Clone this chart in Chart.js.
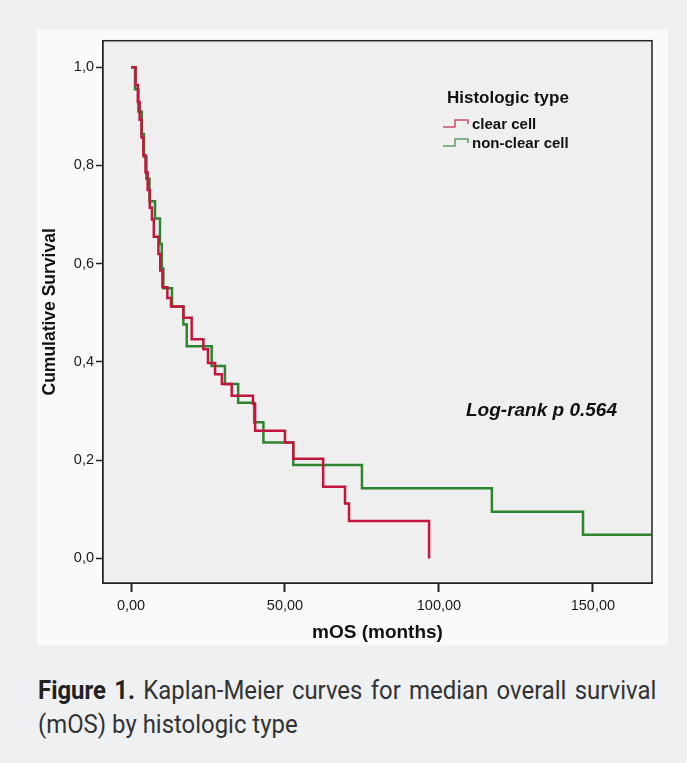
<!DOCTYPE html>
<html>
<head>
<meta charset="utf-8">
<script src="https://cdn.jsdelivr.net/npm/chart.js@4.4.0/dist/chart.umd.min.js"></script>
<style>
  html, body { margin: 0; padding: 0; }
  body { width: 687px; height: 763px; background: #eef0f2; position: relative; overflow: hidden; }
  #panel { position: absolute; left: 37px; top: 30px; width: 631px; height: 615px; background: #fafafa; }
  #caption {
    position: absolute; left: 38px; top: 673px; width: 672px;
    transform: scaleX(0.92); transform-origin: 0 0;
    font-family: Roboto, "Liberation Sans", Arial, sans-serif;
    font-size: 26px; line-height: 34px; color: #333;
    text-align: justify; text-align-last: left;
  }
  #caption b { color: #222; }
</style>
</head>
<body>
<div id="panel"><canvas id="kmChart" width="631" height="615"></canvas></div>
<div id="caption"><b>Figure 1.</b> Kaplan-Meier curves for median overall survival (mOS) by histologic type</div>
<script>
// clear cell (red)
const clearTimes = [0, 1.5, 2.2, 2.8, 3.4, 4.0, 4.7, 5.4, 6.1, 6.8, 7.4, 8.9, 9.5, 10.2, 11.8, 13.0, 17.0, 19.7, 23.5, 25.0, 27.3, 29.5, 32.7, 39.6, 40.3, 50.0, 52.7, 62.4, 69.5, 70.8, 96.8];
const clearSurv = [1.0, 0.964, 0.929, 0.893, 0.857, 0.821, 0.786, 0.75, 0.714, 0.69, 0.655, 0.62, 0.586, 0.552, 0.53, 0.513, 0.49, 0.446, 0.426, 0.398, 0.375, 0.355, 0.331, 0.315, 0.26, 0.236, 0.203, 0.146, 0.112, 0.076, 0.0];

// non-clear cell (green)
const nonClearTimes = [0, 1.3, 2.4, 3.5, 4.2, 5.0, 6.0, 7.8, 9.4, 10.0, 10.5, 13.3, 17.0, 18.1, 26.2, 30.5, 34.8, 40.0, 43.0, 52.7, 75.0, 117.2, 146.8, 169.0];
const nonClearSurv = [1.0, 0.955, 0.91, 0.864, 0.818, 0.773, 0.727, 0.692, 0.64, 0.59, 0.55, 0.513, 0.476, 0.432, 0.392, 0.355, 0.317, 0.277, 0.236, 0.19, 0.143, 0.095, 0.048, 0.048];

const xTicks = [0, 50, 100, 150];
const yTicks = [0, 0.2, 0.4, 0.6, 0.8, 1.0];
const seriesNames = ['clear cell', 'non-clear cell'];
const legendTitle = 'Histologic type';
const pValueText = 'Log-rank p 0.564';

const RED = '#c4163c';
const GREEN = '#2f842f';
const FONT = '"Liberation Sans", Arial, sans-serif';

function toPoints(times, surv) {
    return times.map((t, i) => ({ x: t, y: surv[i] }));
}

// plot background + frame, legend and p-value text
const frame = {
    id: 'frame',
    beforeDatasetsDraw(chart) {
        const a = chart.chartArea;
        const c = chart.ctx;
        c.save();
        c.fillStyle = '#efefef';
        c.fillRect(a.left, a.top, a.right - a.left, a.bottom - a.top);
        c.restore();
    },
    afterDatasetsDraw(chart) {
        const a = chart.chartArea;
        const c = chart.ctx;
        c.save();
        c.strokeStyle = '#222';
        c.lineWidth = 1.5;
        c.strokeRect(a.left, a.top, a.right - a.left, a.bottom - a.top);

        // legend
        c.fillStyle = '#111';
        c.textBaseline = 'alphabetic';
        c.font = 'bold 17px ' + FONT;
        c.fillText(legendTitle, 410, 73);
        const colors = [RED, GREEN];
        const rows = [99, 118];
        c.font = 'bold 15px ' + FONT;
        seriesNames.forEach((name, i) => {
            const y = rows[i];
            c.strokeStyle = colors[i];
            c.globalAlpha = 0.75;
            c.lineWidth = 1.5;
            c.beginPath();
            c.moveTo(406, y - 2);
            c.lineTo(418, y - 2);
            c.lineTo(418, y - 9);
            c.lineTo(431, y - 9);
            c.lineTo(431, y - 5);
            c.stroke();
            c.globalAlpha = 1;
            c.fillStyle = '#111';
            c.fillText(name, 435, y);
        });

        c.font = 'italic bold 19px ' + FONT;
        c.fillText(pValueText, 429, 386);
        c.restore();
    }
};

const ctx = document.getElementById('kmChart').getContext('2d');
new Chart(ctx, {
    type: 'line',
    data: {
        datasets: [
            {
                label: seriesNames[0],
                data: toPoints(clearTimes, clearSurv),
                borderColor: RED,
                borderWidth: 2.5,
                stepped: true,
                pointRadius: 0,
                fill: false
            },
            {
                label: seriesNames[1],
                data: toPoints(nonClearTimes, nonClearSurv),
                borderColor: GREEN,
                borderWidth: 2.5,
                stepped: true,
                pointRadius: 0,
                fill: false
            }
        ]
    },
    options: {
        responsive: false,
        animation: false,
        layout: { padding: { top: 8, right: 16, left: 0, bottom: 0 } },
        plugins: {
            legend: { display: false },
            tooltip: { enabled: false }
        },
        scales: {
            x: {
                type: 'linear',
                min: -9.1,
                max: 169.2,
                afterBuildTicks: scale => { scale.ticks = xTicks.map(v => ({ value: v })); },
                afterFit: scale => { scale.height = 62; },
                grid: { drawOnChartArea: false, drawTicks: true, tickLength: 9, tickColor: '#222', tickWidth: 2 },
                border: { display: true, color: '#222', width: 2 },
                ticks: {
                    padding: 5,
                    color: '#1a1a1a',
                    font: { family: FONT, size: 14.5 },
                    callback: v => v.toFixed(2).replace('.', ',')
                },
                title: {
                    display: true,
                    text: 'mOS (months)',
                    color: '#111',
                    font: { family: FONT, size: 19, weight: 'bold' },
                    padding: { top: 0, bottom: 1 }
                }
            },
            y: {
                type: 'linear',
                min: -0.05,
                max: 1.054,
                afterBuildTicks: scale => { scale.ticks = yTicks.map(v => ({ value: v })); },
                afterFit: scale => { scale.width = 66; },
                grid: { drawOnChartArea: false, drawTicks: true, tickLength: 7, tickColor: '#222', tickWidth: 1.5 },
                border: { display: true, color: '#222', width: 2 },
                ticks: {
                    padding: 2,
                    color: '#1a1a1a',
                    font: { family: FONT, size: 14.5 },
                    callback: v => v.toFixed(1).replace('.', ',')
                },
                title: {
                    display: true,
                    text: 'Cumulative Survival',
                    color: '#111',
                    font: { family: FONT, size: 17.5, weight: 'bold' },
                    padding: { top: 3, bottom: 0 }
                }
            }
        }
    },
    plugins: [frame]
});
</script>
</body>
</html>
